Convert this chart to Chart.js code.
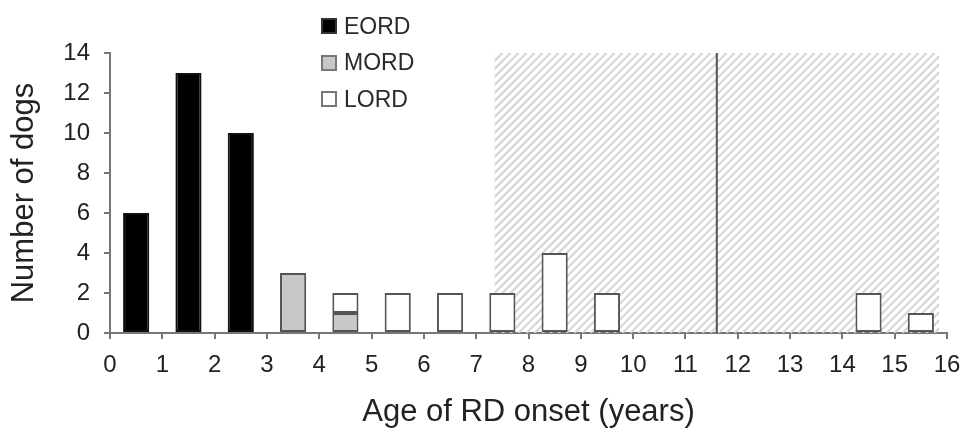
<!DOCTYPE html>
<html>
<head>
<meta charset="utf-8">
<script src="https://cdn.jsdelivr.net/npm/chart.js@4"></script>
<style>
  html, body { margin: 0; padding: 0; background: #fff; }
  #wrap { position: relative; width: 968px; height: 435px; }
  #legend { position: absolute; left: 321px; top: 8px; font-family: "Liberation Sans", Arial, sans-serif; font-size: 23px; color: #2a2a2a; }
  #legend div { display: flex; align-items: center; height: 36.5px; }
  #legend span.box { width: 12px; height: 12px; border: 2px solid #555; margin-right: 7px; box-sizing: content-box; }
</style>
</head>
<body>
<div id="wrap">
  <canvas id="chart"></canvas>
  <div id="legend"></div>
</div>
<script>
// bin start (years) for each bar
const binStarts = [0, 1, 2, 3, 4, 5, 6, 7, 8, 9, 10, 11, 12, 13, 14, 15];
const eord = [6, 13, 10, null, null, null, null, null, null, null, null, null, null, null, null, null];
const mord = [null, null, null, 3, 1, null, null, null, null, null, null, null, null, null, null, null];
const lord = [null, null, null, null, 1, 2, 2, 2, 4, 2, null, null, null, null, 2, 1];
const xTicks = [0, 16, 1];   // min, max, step
const yTicks = [0, 14, 2];
// shaded age range and the vertical marker
const shadeRange = [7.35, 15.85];
const markerAge = 11.6;

const toPoints = arr => binStarts.map((b, i) => ({ x: b + 0.5, y: arr[i] }));

const seriesStyle = [
  { label: 'EORD', values: eord, fill: '#000000', border: '#111111', key: '#333' },
  { label: 'MORD', values: mord, fill: '#c8c8c8', border: '#555555', key: '#777' },
  { label: 'LORD', values: lord, fill: '#ffffff', border: '#555555', key: '#777' }
];

document.getElementById('legend').innerHTML = seriesStyle.map(s =>
  `<div><span class="box" style="background:${s.fill};border-color:${s.key}"></span>${s.label}</div>`
).join('');

const shadePlugin = {
  id: 'shade',
  beforeDatasetsDraw(chart) {
    const { ctx, scales: { x, y } } = chart;
    const x0 = x.getPixelForValue(shadeRange[0]);
    const x1 = x.getPixelForValue(shadeRange[1]);
    const y0 = y.getPixelForValue(yTicks[1]);
    const y1 = y.getPixelForValue(0);
    ctx.save();
    ctx.beginPath();
    ctx.rect(x0, y0, x1 - x0, y1 - y0);
    ctx.clip();
    ctx.strokeStyle = '#d4d4d4';
    ctx.lineWidth = 2;
    const h = y1 - y0;
    for (let sx = x0 - h; sx < x1 + 10; sx += 8) {
      ctx.beginPath();
      ctx.moveTo(sx, y1);
      ctx.lineTo(sx + h, y0);
      ctx.stroke();
    }
    ctx.restore();
  },
  afterDatasetsDraw(chart) {
    const { ctx, scales: { x, y } } = chart;
    const px = x.getPixelForValue(markerAge);
    ctx.save();
    ctx.strokeStyle = '#555';
    ctx.lineWidth = 2;
    ctx.beginPath();
    ctx.moveTo(px, y.getPixelForValue(yTicks[1]));
    ctx.lineTo(px, y.getPixelForValue(0));
    ctx.stroke();
    ctx.restore();
  }
};

const font = { family: '"Liberation Sans", Arial, sans-serif' };

new Chart(document.getElementById('chart'), {
  type: 'bar',
  data: {
    datasets: seriesStyle.map(s => ({
      label: s.label,
      data: toPoints(s.values),
      backgroundColor: s.fill,
      borderColor: s.border,
      borderWidth: 2,
      borderSkipped: false,
      grouped: false,
      barPercentage: 0.5,
      categoryPercentage: 1.0
    }))
  },
  options: {
    responsive: true,
    maintainAspectRatio: false,
    animation: false,
    layout: { padding: { left: 0, right: 21, top: 53, bottom: 0 } },
    plugins: { legend: { display: false }, tooltip: { enabled: false } },
    scales: {
      x: {
        type: 'linear',
        min: xTicks[0],
        max: xTicks[1],
        offset: false,
        stacked: true,
        afterFit: s => { s.height = 102; s.paddingLeft = 0; s.paddingRight = 0; },
        ticks: { stepSize: xTicks[2], autoSkip: false, color: '#222', padding: 12, font: { ...font, size: 24 } },
        grid: { offset: false, drawOnChartArea: false, drawTicks: true, tickLength: 6, color: '#777', lineWidth: 2 },
        border: { color: '#777', width: 2 },
        title: { display: true, text: 'Age of RD onset (years)', color: '#222', padding: { top: 0, bottom: 4 }, font: { ...font, size: 31 } }
      },
      y: {
        min: yTicks[0],
        max: yTicks[1],
        stacked: true,
        afterFit: s => { s.width = 110; },
        ticks: { stepSize: yTicks[2], color: '#222', padding: 14, font: { ...font, size: 24 } },
        grid: { drawOnChartArea: false, drawTicks: true, tickLength: 6, color: '#777', lineWidth: 2 },
        border: { color: '#777', width: 2 },
        title: { display: true, text: 'Number of dogs', color: '#222', padding: { top: 6, bottom: 0 }, font: { ...font, size: 31 } }
      }
    }
  },
  plugins: [shadePlugin]
});
</script>
</body>
</html>
